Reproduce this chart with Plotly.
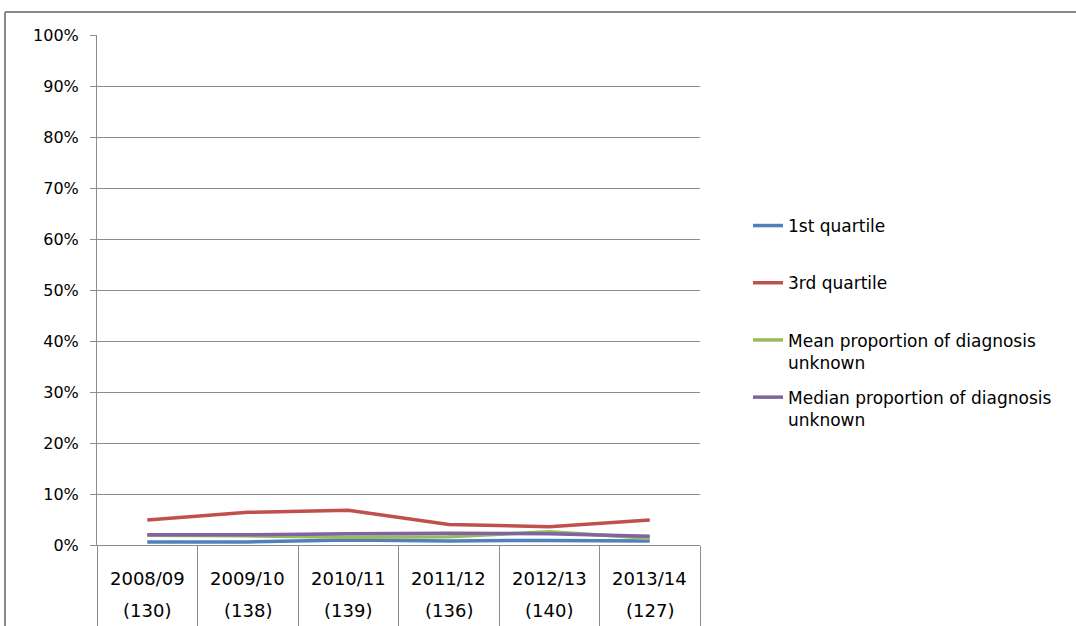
import plotly.graph_objects as go

# ---- data ----
years = ["2008/09", "2009/10", "2010/11", "2011/12", "2012/13", "2013/14"]
counts = ["(130)", "(138)", "(139)", "(136)", "(140)", "(127)"]
q1 = [0.006, 0.006, 0.010, 0.008, 0.009, 0.008]
q3 = [0.049, 0.064, 0.068, 0.040, 0.036, 0.049]
mean_unknown = [0.019, 0.018, 0.015, 0.016, 0.026, 0.013]
median_unknown = [0.020, 0.020, 0.022, 0.023, 0.022, 0.017]
y_ticks = [0, 0.1, 0.2, 0.3, 0.4, 0.5, 0.6, 0.7, 0.8, 0.9, 1.0]

series = [
    ("1st quartile<br> ", q1, "#4F81BD"),
    ("3rd quartile<br> ", q3, "#C0504D"),
    ("Mean proportion of diagnosis<br>unknown", mean_unknown, "#9BBB59"),
    ("Median proportion of diagnosis<br>unknown", median_unknown, "#8064A2"),
]

W, H = 1076, 626
L, R, T, B = 97, 700, 35, 545
pw, ph = R - L, B - T

fig = go.Figure()
for i, (name, vals, col) in enumerate(series):
    fig.add_trace(go.Scatter(
        x=years, y=vals, mode="lines", name=name,
        line=dict(color=col, width=3.5),
        legendgroup=str(i),
    ))

grey = "#8C8C8C"
font = "DejaVu Sans"

def px_x(p):
    return (p - L) / pw

def px_y(p):
    return (B - p) / ph

annotations = []
for yr, cn in zip(years, counts):
    annotations.append(dict(x=yr, y=px_y(578), xref="x", yref="paper", text=yr,
                            showarrow=False, yanchor="middle",
                            font=dict(family=font, size=18, color="#000")))
    annotations.append(dict(x=yr, y=px_y(610), xref="x", yref="paper", text=cn,
                            showarrow=False, yanchor="middle",
                            font=dict(family=font, size=18, color="#000")))

shapes = [
    dict(type="line", xref="paper", yref="paper",
         x0=px_x(5), x1=px_x(5), y0=px_y(12), y1=px_y(640),
         line=dict(color="#8A8A8A", width=2)),
    dict(type="line", xref="paper", yref="paper",
         x0=px_x(5), x1=px_x(1090), y0=px_y(12), y1=px_y(12),
         line=dict(color="#8A8A8A", width=2)),
]

fig.update_layout(
    width=W, height=H,
    margin=dict(l=L, r=W - R, t=T, b=H - B, pad=0, autoexpand=False),
    paper_bgcolor="white", plot_bgcolor="white",
    font=dict(family=font, size=15, color="#000"),
    showlegend=True,
    legend=dict(
        x=px_x(748), y=px_y(208), xanchor="left", yanchor="top",
        font=dict(family=font, size=17, color="#000"),
        tracegroupgap=10, valign="top", bgcolor="rgba(0,0,0,0)",
    ),
    xaxis=dict(
        type="category", categoryorder="array", categoryarray=years,
        range=[-0.5, len(years) - 0.5],
        showticklabels=False,
        tickson="boundaries", ticks="outside", ticklen=H - B + 5,
        tickcolor=grey, tickwidth=1, automargin=False,
        showgrid=False, showline=True, linecolor=grey, linewidth=1,
        zeroline=False, fixedrange=True,
    ),
    yaxis=dict(
        range=[0, 1], tickmode="array", tickvals=y_ticks,
        tickformat=".0%", ticks="outside", ticklen=6, tickcolor=grey,
        ticklabelstandoff=8, automargin=False,
        showgrid=True, gridcolor=grey, gridwidth=1,
        showline=True, linecolor=grey, linewidth=1, zeroline=False,
        tickfont=dict(family=font, size=16, color="#000"),
    ),
    annotations=annotations,
    shapes=shapes,
)

fig.write_html("out.html")
